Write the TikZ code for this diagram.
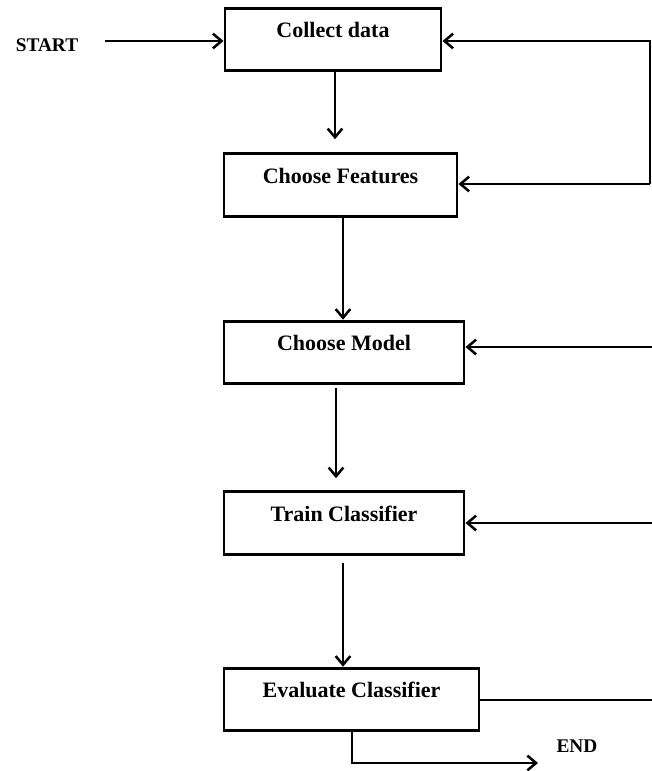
\documentclass[tikz,border=0pt]{standalone}
\usepackage{fontspec}
\setmainfont{Liberation Serif}
\usetikzlibrary{arrows.meta,calc}
\begin{document}
\begin{tikzpicture}[x=0.75pt,y=-0.75pt,
 box/.style={draw,line width=2.2pt,rectangle,inner sep=0pt,text height=22pt,text depth=25pt,font=\fontsize{16.5}{18}\selectfont\bfseries},
 lbl/.style={font=\fontsize{14.5}{16}\selectfont\bfseries,inner sep=0pt},
 arr/.style={line width=1.9pt,-{Straight Barb[length=6.5pt,width=11pt,line width=1.9pt]}},
 ln/.style={line width=1.9pt}]
\useasboundingbox (0,0) rectangle (652,771);
% boxes
\node[box,minimum width=162pt]    (cd) at (333,39.5)  {Collect data};
\node[box,minimum width=174.75pt] (cf) at (340.5,185) {Choose Features};
\node[box,minimum width=180pt]    (cm) at (344,352.5) {Choose Model};
\node[box,minimum width=180pt]    (ct) at (344,523)   {Train Classifier};
\node[box,minimum width=191.25pt] (ce) at (351.5,699.5) {Evaluate Classifier};
% labels
\node[lbl] (start) at (47,45) {START};
\node[lbl] (end) at (577,746) {END};
% helper coordinates
\coordinate (s1) at (105,41);
\coordinate (r1) at (650,41);
\coordinate (r2) at (650,184);
\coordinate (e3) at (652,347);
\coordinate (e4) at (652,523);
\coordinate (e5) at (652,700);
\coordinate (x1) at (335,0);
\coordinate (x2) at (343,0);
\coordinate (x3) at (336,0);
\coordinate (x4) at (343,0);
\coordinate (x5) at (352,763);
\coordinate (endc) at (538,763);
% connectors
\draw[arr] (s1) -- (s1 -| cd.west);
\draw[arr] (r2) -- (r1) -- (r1 -| cd.east);
\draw[arr] (r2) -- (r2 -| cf.east);
\draw[arr] (e3) -- (e3 -| cm.east);
\draw[arr] (e4) -- (e4 -| ct.east);
\draw[ln] (ce.east |- e5) -- (e5);
\draw[arr,shorten >=9.75pt] (cd.south -| x1) -- (cf.north -| x1);
\draw[arr] (cf.south -| x2) -- (cm.north -| x2);
\draw[arr,shorten <=2.25pt,shorten >=9pt] (cm.south -| x3) -- (ct.north -| x3);
\draw[arr,shorten <=5.25pt] (ct.south -| x4) -- (ce.north -| x4);
\draw[arr] (ce.south -| x5) -- (x5) -- (endc);
\end{tikzpicture}
\end{document}
